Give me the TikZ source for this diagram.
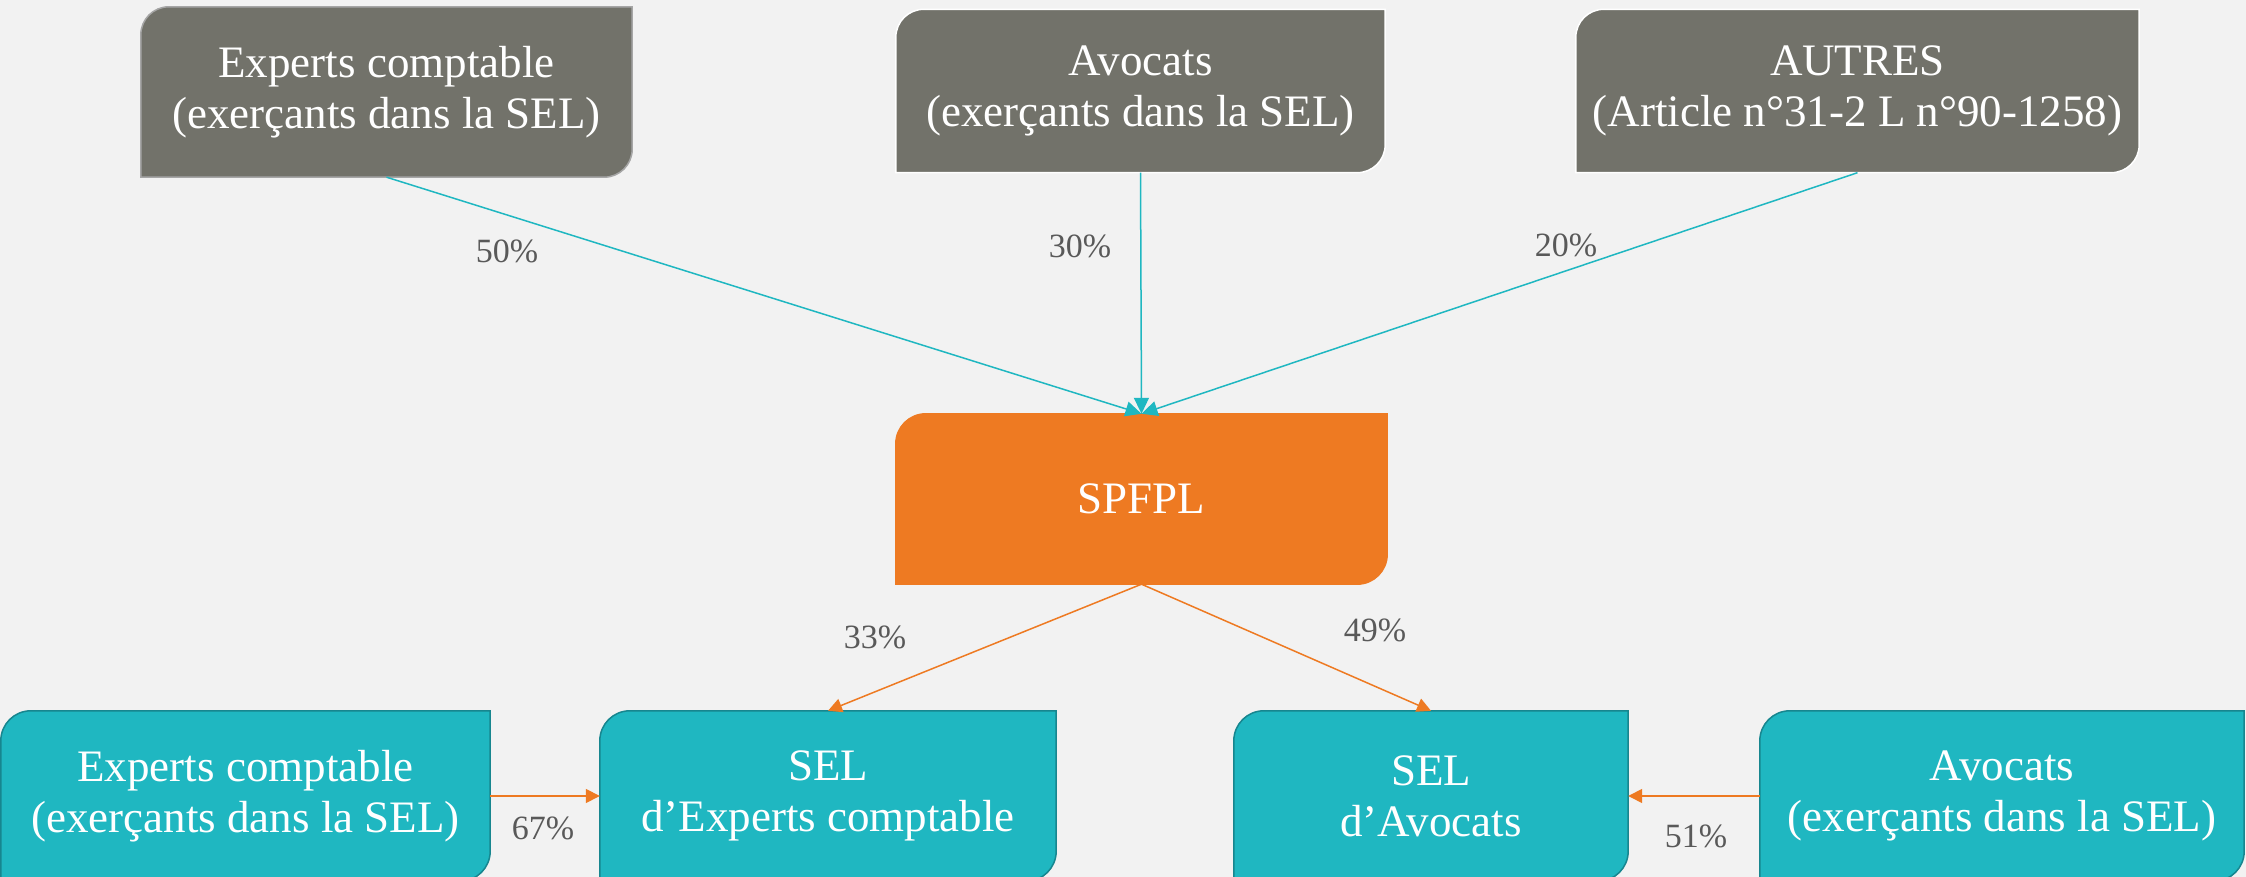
\documentclass[tikz,border=0pt]{standalone}
\usepackage{fontspec}
\setmainfont{Liberation Serif}
\usetikzlibrary{arrows.meta,backgrounds}
\definecolor{pagebg}{HTML}{F2F2F2}
\definecolor{boxgrey}{HTML}{72726A}
\definecolor{boxorange}{HTML}{EE7A22}
\definecolor{boxteal}{HTML}{1FB7C1}
\definecolor{tealedge}{HTML}{17868F}
\definecolor{greyedge}{HTML}{A6A6A6}
\definecolor{labelgrey}{HTML}{595959}
\newcommand\cornerbox[4]{%
  \path[fill=#2, draw=#3, line width=1.5pt] (#1.south west) -- ([yshift=-#4pt]#1.north west)
    arc[start angle=180,end angle=90,radius=#4pt] -- (#1.north east) -- ([yshift=#4pt]#1.south east)
    arc[start angle=0,end angle=-90,radius=#4pt] -- cycle;}
\begin{document}
\begin{tikzpicture}[x=1pt,y=1pt,
  boxtext/.style={rectangle, inner sep=0pt, text=white, align=center, font=\fontsize{45}{51}\selectfont},
  pct/.style={text=labelgrey, inner sep=0pt, font=\fontsize{34}{40}\selectfont},
  tealarrow/.style={draw=boxteal, line width=1.5pt, -{Triangle[length=16pt,width=15pt]}, color=boxteal},
  orangearrow/.style={draw=boxorange, line width=1.5pt, -{Triangle[length=14pt,width=14pt]}, color=boxorange}]
\useasboundingbox (0,0) rectangle (2246,877);
% nodes
\node[boxtext, minimum width=491pt, minimum height=170pt] (ec) at (386.5,785) {Experts comptable\\(exerçants dans la SEL)};
\node[boxtext, minimum width=489pt, minimum height=163pt] (av) at (1140.5,786) {Avocats\\(exerçants dans la SEL)};
\node[boxtext, minimum width=563pt, minimum height=163pt] (au) at (1857.5,786) {AUTRES\\(Article n°31-2 L n°90-1258)};
\node[boxtext, minimum width=491pt, minimum height=170pt] (sp) at (1141.5,378) {SPFPL};
\node[boxtext, minimum width=489pt, minimum height=170pt] (ecb) at (245.5,81) {Experts comptable\\(exerçants dans la SEL)};
\node[boxtext, minimum width=456pt, minimum height=170pt] (sele) at (828,81) {SEL\\d’Experts comptable};
\node[boxtext, minimum width=394pt, minimum height=170pt] (sela) at (1431,81) {SEL\\d’Avocats};
\node[boxtext, minimum width=484pt, minimum height=170pt] (avb) at (2002,81) {Avocats\\(exerçants dans la SEL)};
% shapes behind
\begin{pgfonlayer}{background}
\fill[pagebg] (0,0) rectangle (2246,877);
\cornerbox{ec}{boxgrey}{greyedge}{28}
\cornerbox{av}{boxgrey}{white}{28}
\cornerbox{au}{boxgrey}{white}{28}
\cornerbox{sp}{boxorange}{boxorange}{30}
\cornerbox{ecb}{boxteal}{tealedge}{30}
\cornerbox{sele}{boxteal}{tealedge}{30}
\cornerbox{sela}{boxteal}{tealedge}{30}
\cornerbox{avb}{boxteal}{tealedge}{30}
\end{pgfonlayer}
% connectors
\draw[tealarrow] (ec.south) -- (sp.north);
\draw[tealarrow] (av.south) -- (sp.north);
\draw[tealarrow] (au.south) -- (sp.north);
\draw[orangearrow] (sp.south) -- (sele.north);
\draw[orangearrow] (sp.south) -- (sela.north);
\draw[orangearrow] (ecb.east) -- (sele.west);
\draw[orangearrow] (avb.west) -- (sela.east);
% labels
\node[pct] (l50) at (507,626) {50\%};
\node[pct] (l30) at (1080,631) {30\%};
\node[pct] (l20) at (1566,632) {20\%};
\node[pct] (l33) at (875,240) {33\%};
\node[pct] (l49) at (1375,247) {49\%};
\node[pct] (l67) at (543,49) {67\%};
\node[pct] (l51) at (1696,41) {51\%};
\end{tikzpicture}
\end{document}
